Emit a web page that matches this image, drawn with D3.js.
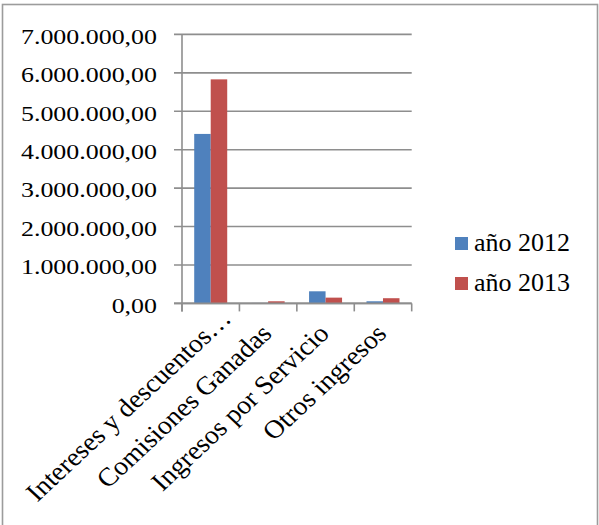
<!DOCTYPE html>
<html>
<head>
<meta charset="utf-8">
<script src="https://cdn.jsdelivr.net/npm/d3@7"></script>
<style>
  body { margin: 0; background: #fff; }
  svg { display: block; font-family: "Liberation Serif", "Times New Roman", serif; }
</style>
</head>
<body>
<div id="chart"></div>
<script>
// data
const categories = ["Intereses y descuentos…", "Comisiones Ganadas", "Ingresos por Servicio", "Otros ingresos"];
const seriesNames = ["año 2012", "año 2013"];
const values2012 = [4410000, 12000, 315000, 55000];
const values2013 = [5830000, 55000, 150000, 135000];
const yTicks = [0, 1000000, 2000000, 3000000, 4000000, 5000000, 6000000, 7000000];

const colors = ["#4f81bd", "#c0504d"];
const rows = categories.map((c, i) => ({cat: c, vals: [values2012[i], values2013[i]]}));

const W = 599, H = 525;
const plot = {left: 182, right: 411.7, top: 34.4, bottom: 303.4};

const svg = d3.select("#chart").append("svg")
    .attr("width", W).attr("height", H);

// outer chart border
svg.append("rect")
    .attr("x", 2.5).attr("y", 4.5)
    .attr("width", 595).attr("height", 540)
    .attr("fill", "none").attr("stroke", "#9c9c9c").attr("stroke-width", 1.6);

const x = d3.scaleBand().domain(categories).range([plot.left, plot.right]).padding(0);
const xs = d3.scaleBand().domain(d3.range(seriesNames.length))
    .range([0, x.bandwidth()]).paddingInner(0).paddingOuter(0.74);
const y = d3.scaleLinear().domain([0, 7000000]).range([plot.bottom, plot.top]);

const loc = d3.formatLocale({decimal: ",", thousands: ".", grouping: [3], currency: ["", ""]});
const fmt = loc.format(",.2f");

// gridlines + y ticks
svg.append("g").selectAll("line")
    .data(yTicks).enter().append("line")
    .attr("x1", plot.left - 8).attr("x2", plot.right)
    .attr("y1", d => y(d)).attr("y2", d => y(d))
    .attr("stroke", "#8e8e8e").attr("stroke-width", 1.6);

svg.append("g").selectAll("text")
    .data(yTicks).enter().append("text")
    .attr("transform", d => `translate(157,${y(d) + 9.3}) scale(1.2,1)`)
    .attr("text-anchor", "end")
    .style("font-size", "21.6px")
    .attr("fill", "#000")
    .text(d => fmt(d));

// bars
svg.append("g").selectAll("g")
    .data(rows).enter().append("g")
    .attr("transform", d => `translate(${x(d.cat)},0)`)
    .selectAll("rect")
    .data(d => d.vals.map((v, i) => ({v, i})))
    .enter().append("rect")
    .attr("x", d => xs(d.i))
    .attr("width", xs.bandwidth())
    .attr("y", d => y(d.v))
    .attr("height", d => y(0) - y(d.v))
    .attr("fill", d => colors[d.i]);

// axes lines
svg.append("line")
    .attr("x1", plot.left).attr("x2", plot.left)
    .attr("y1", plot.top).attr("y2", plot.bottom + 8)
    .attr("stroke", "#8e8e8e").attr("stroke-width", 1.6);
svg.append("line")
    .attr("x1", plot.left - 8).attr("x2", plot.right)
    .attr("y1", plot.bottom).attr("y2", plot.bottom)
    .attr("stroke", "#8e8e8e").attr("stroke-width", 1.6);

// category tick marks at band edges
const edges = categories.map(c => x(c)).concat([plot.right]);
svg.append("g").selectAll("line")
    .data(edges).enter().append("line")
    .attr("x1", d => d).attr("x2", d => d)
    .attr("y1", plot.bottom).attr("y2", plot.bottom + 8)
    .attr("stroke", "#8e8e8e").attr("stroke-width", 1.6);

// rotated category labels
svg.append("g").selectAll("text")
    .data(categories).enter().append("text")
    .attr("transform", d => {
        let cx = x(d) + x.bandwidth() / 2 + 5, cy = 335;
        if (d.endsWith("…")) { cx += 17; cy -= 15; }
        return `translate(${cx},${cy}) scale(1.07,1) rotate(-45)`;
    })
    .attr("text-anchor", "end")
    .style("font-size", "26px")
    .attr("fill", "#000")
    .text(d => d);

// legend
const legend = svg.append("g").selectAll("g")
    .data(seriesNames).enter().append("g")
    .attr("transform", (d, i) => `translate(455,${237 + i * 40})`);
legend.append("rect")
    .attr("width", 13).attr("height", 13)
    .attr("fill", (d, i) => colors[i]);
legend.append("text")
    .attr("x", 19).attr("y", 14.3)
    .style("font-size", "26px")
    .attr("fill", "#000")
    .text(d => d);
</script>
</body>
</html>
